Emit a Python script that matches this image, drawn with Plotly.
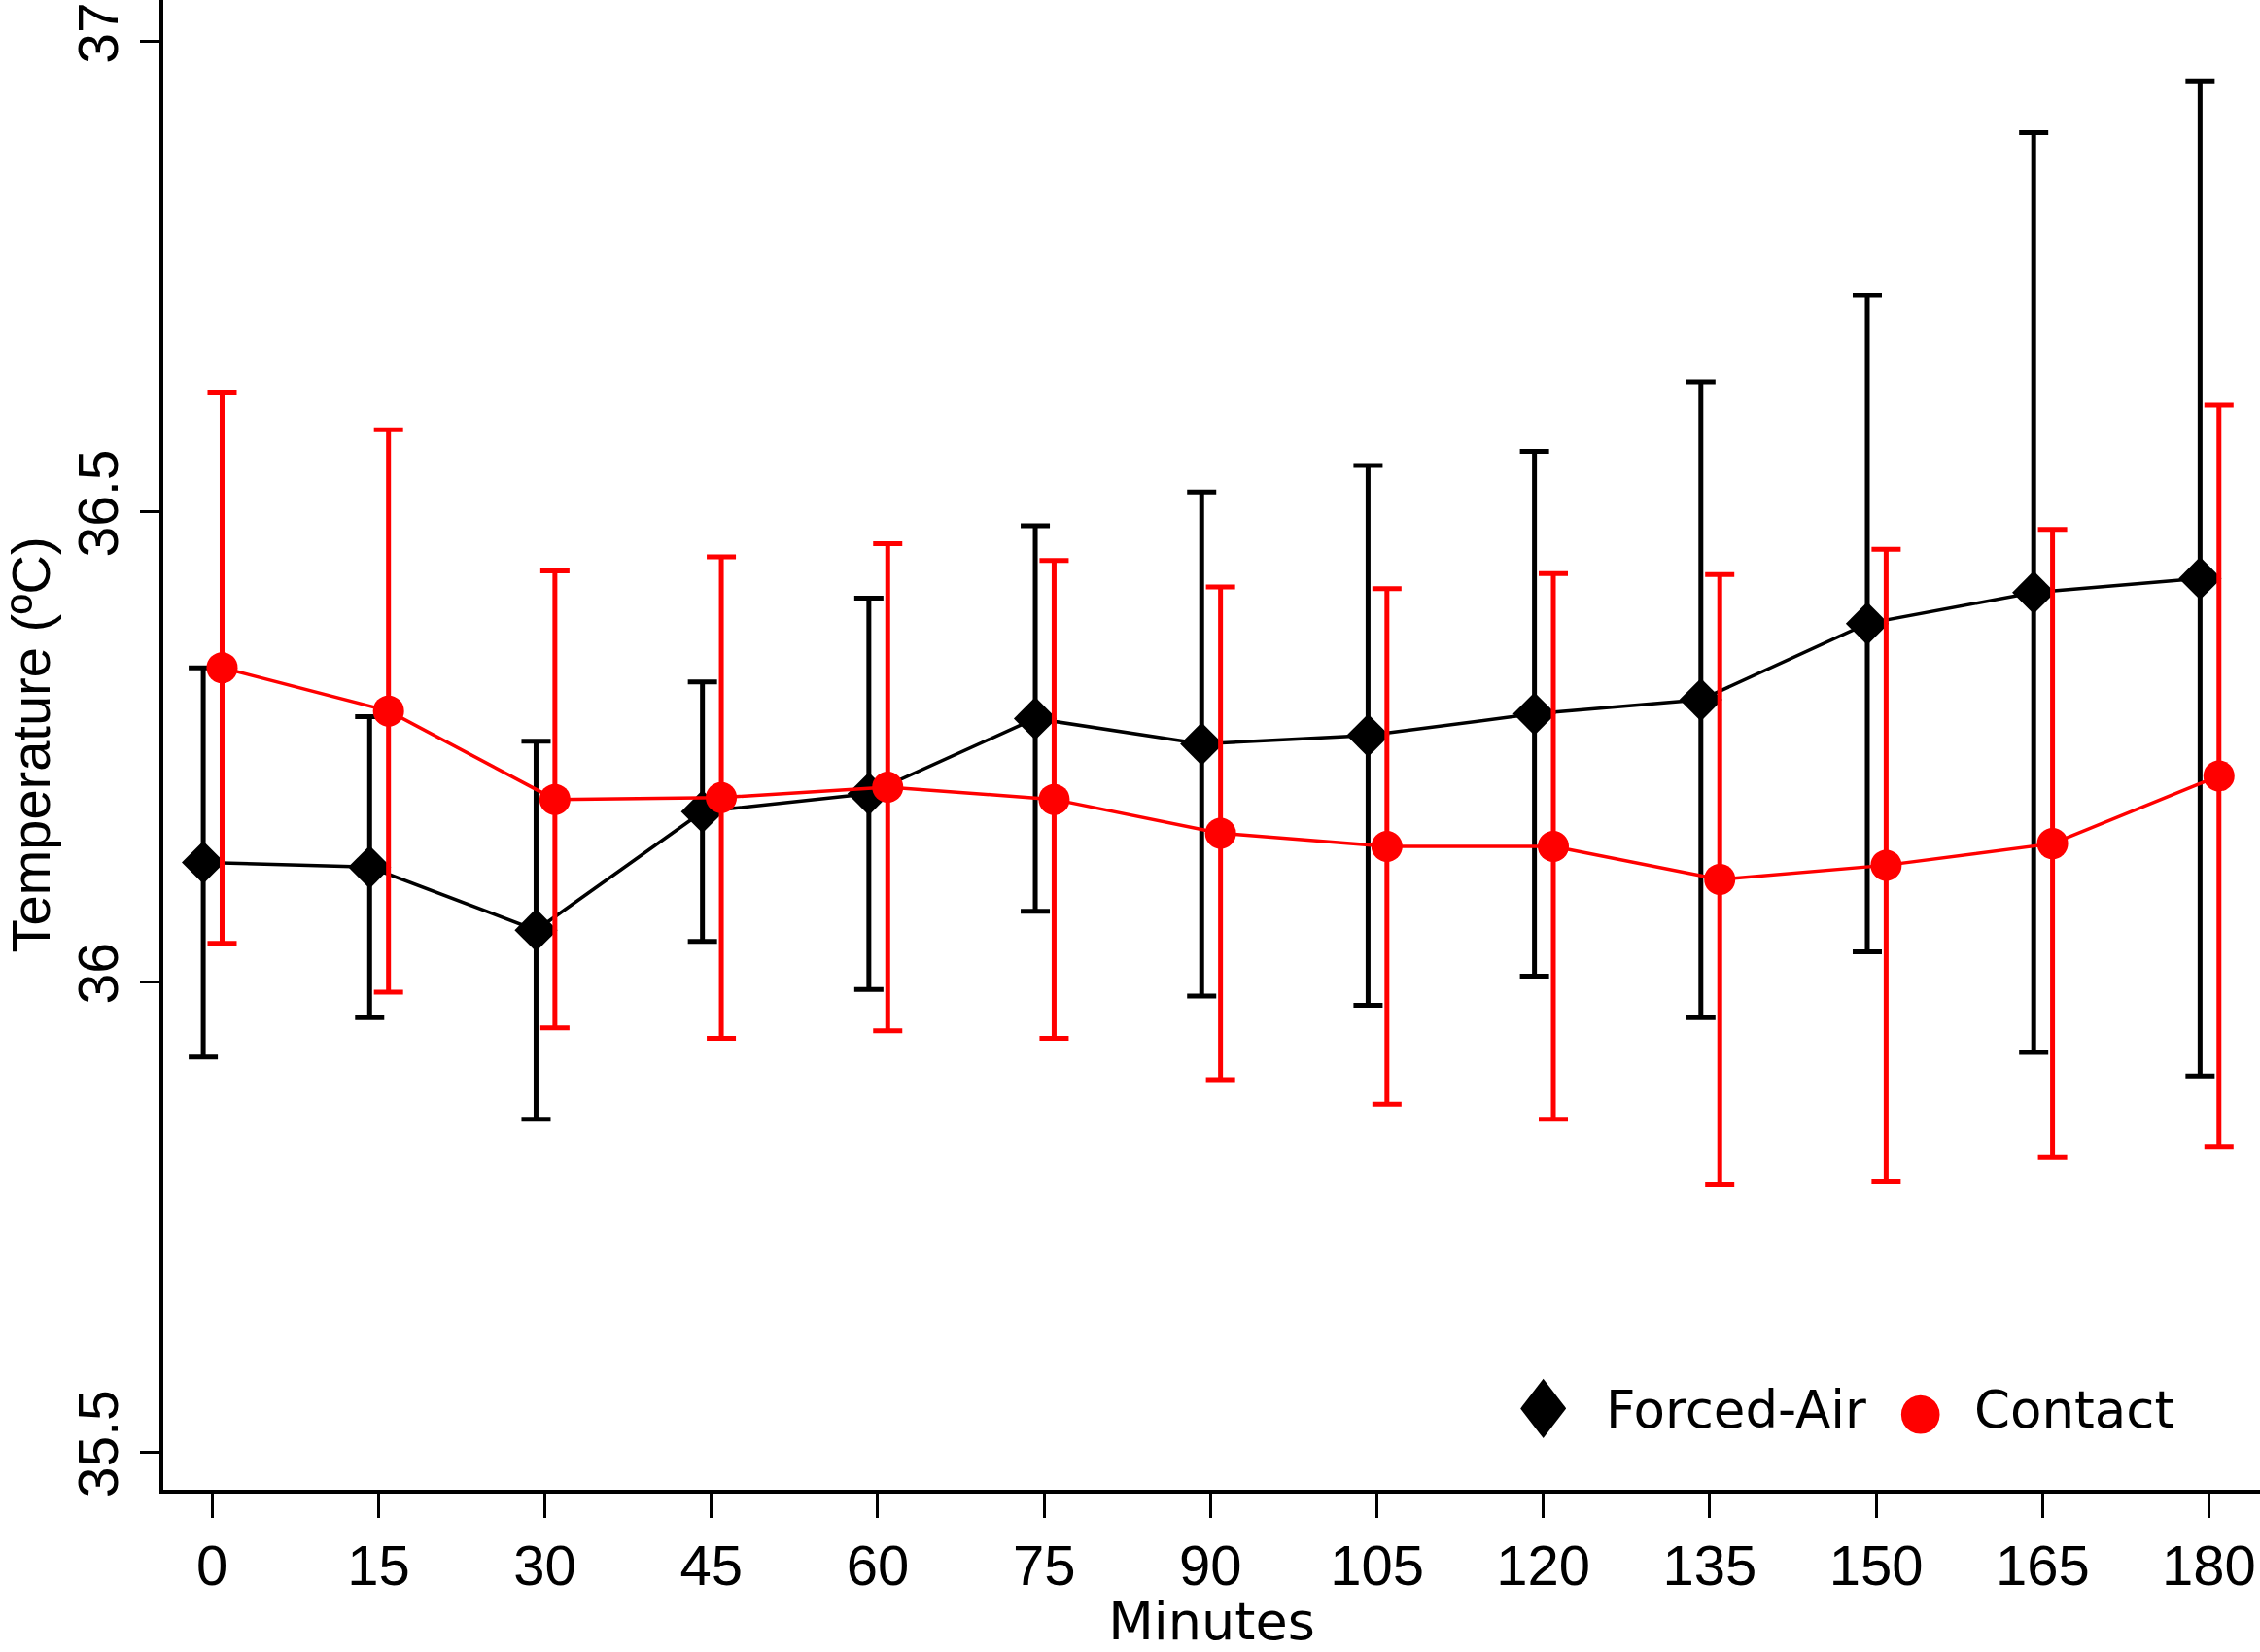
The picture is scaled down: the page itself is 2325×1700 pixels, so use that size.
import plotly.graph_objects as go

# time points (minutes)
minutes = [0, 15, 30, 45, 60, 75, 90, 105, 120, 135, 150, 165, 180]

# Forced-Air group: mean and error (deg C)
forced_mean = [36.127, 36.122, 36.055, 36.181, 36.200, 36.280, 36.253, 36.262, 36.285, 36.300, 36.381, 36.414, 36.429]
forced_err = [0.207, 0.160, 0.201, 0.138, 0.208, 0.205, 0.268, 0.287, 0.279, 0.338, 0.349, 0.489, 0.529]

# Contact group
contact_mean = [36.334, 36.288, 36.194, 36.196, 36.207, 36.194, 36.158, 36.144, 36.144, 36.109, 36.124, 36.147, 36.219]
contact_err = [0.293, 0.299, 0.243, 0.256, 0.259, 0.254, 0.262, 0.274, 0.290, 0.324, 0.336, 0.334, 0.394]

y_ticks = [35.5, 36, 36.5, 37]

# small horizontal dodge so the bars don't sit on top of each other
dodge_forced = -0.8
dodge_contact = 0.9

fig = go.Figure()

fig.add_trace(go.Scatter(
    x=[m + dodge_forced for m in minutes], y=forced_mean, name="Forced-Air",
    mode="lines+markers",
    line=dict(color="black", width=3.5),
    marker=dict(symbol="diamond", size=34, color="black"),
    error_y=dict(type="data", array=forced_err, visible=True, color="black", thickness=5, width=15),
    showlegend=False,
))

fig.add_trace(go.Scatter(
    x=[m + dodge_contact for m in minutes], y=contact_mean, name="Contact",
    mode="lines+markers",
    line=dict(color="#ff0000", width=3.5),
    marker=dict(symbol="circle", size=32, color="#ff0000"),
    error_y=dict(type="data", array=contact_err, visible=True, color="#ff0000", thickness=5, width=15),
    showlegend=False,
))

# legend drawn as separate texts so the symbols can be full size
legend_y = 0.0535
legend_items = [
    dict(x=0.658, text="♦", xanchor="center", size=84, color="black"),
    dict(x=0.687, text="Forced-Air", xanchor="left", size=53, color="black"),
    dict(x=0.838, text="●", xanchor="center", size=52, color="#ff0000"),
    dict(x=0.863, text="Contact", xanchor="left", size=53, color="black"),
]
for item in legend_items:
    fig.add_annotation(
        xref="paper", yref="paper", x=item["x"], y=legend_y,
        xanchor=item["xanchor"], yanchor="middle", showarrow=False,
        text=item["text"],
        font=dict(family="DejaVu Sans", size=item["size"], color=item["color"]),
    )

fig.update_layout(
    width=2325, height=1700,
    margin=dict(l=168, r=0, t=0, b=167),
    paper_bgcolor="white", plot_bgcolor="white",
    font=dict(family="Liberation Sans", color="black"),
    xaxis=dict(
        range=[-4.4, 184.6], tickmode="array", tickvals=minutes,
        showgrid=False, zeroline=False,
        showline=True, linecolor="black", linewidth=3.5,
        ticks="outside", ticklen=25, tickwidth=3, tickcolor="black",
        tickfont=dict(family="Liberation Sans", size=58),
        title=dict(text="Minutes", font=dict(family="DejaVu Sans", size=54), standoff=4),
    ),
    yaxis=dict(
        range=[35.46, 37.044], tickmode="array", tickvals=y_ticks,
        ticktext=[str(v) for v in y_ticks], tickangle=-90,
        showgrid=False, zeroline=False,
        showline=True, linecolor="black", linewidth=3.5,
        ticks="outside", ticklen=20, tickwidth=3, tickcolor="black",
        tickfont=dict(family="Liberation Sans", size=57),
        title=dict(text="Temperature (ºC)", font=dict(family="Liberation Sans", size=56), standoff=4),
    ),
)

# drop the page's default body margin so the figure sits flush in the window
fig.write_html(
    "out.html",
    config={"displayModeBar": False},
    post_script="document.body.style.margin='0';document.body.style.overflow='hidden';",
)
